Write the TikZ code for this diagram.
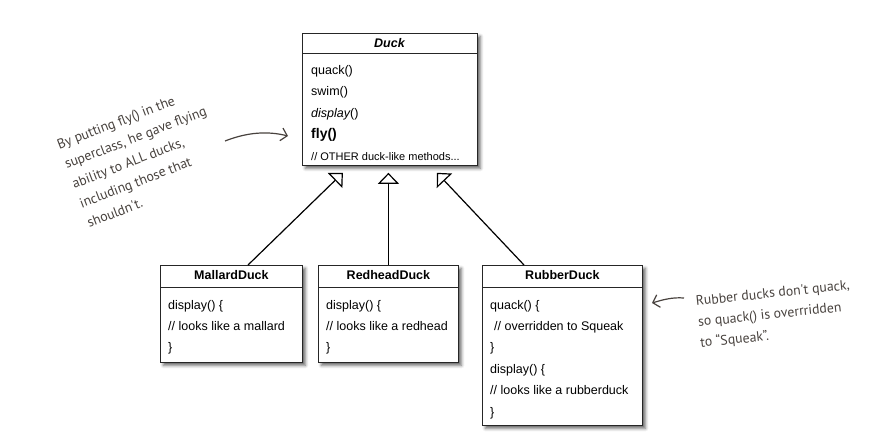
\documentclass[tikz,border=0pt]{standalone}
\usepackage{fontspec}
\setmainfont{Liberation Sans}
\newfontfamily\handfont{PT Sans}
\usetikzlibrary{calc,arrows.meta,shadows.blur}
\definecolor{notegray}{RGB}{72,66,62}

\begin{document}
\begin{tikzpicture}[x=1pt, y=-1pt,
  classbox/.style={draw=black!85, line width=0.8pt, fill=white, anchor=north west, inner sep=0pt,
    blur shadow={shadow xshift=3pt, shadow yshift=-3pt, shadow blur radius=3pt, shadow opacity=60}},
  member/.style={anchor=base west, inner sep=0pt, font=\fontsize{12.5}{14}\selectfont},
  classname/.style={anchor=base, inner sep=0pt, font=\bfseries\fontsize{12.5}{14}\selectfont},
  inherit/.style={-{Triangle[open, length=11pt, width=21pt]}, line width=1.2pt},
  note/.style={text=notegray, align=left, inner sep=0pt, font=\handfont\fontsize{13.8}{21}\selectfont},
  noteline/.style={draw=notegray, line width=1.2pt, -{Straight Barb[length=6pt, width=13pt]}}]
  \useasboundingbox (0,0) rectangle (873,442);
  % 父类 Duck
  \node[classbox, minimum width=175pt, minimum height=132pt] (duck) at (302,33) {};
  \draw[line width=0.8pt, black!85] ($(duck.north west)+(0,20)$) -- ($(duck.north east)+(0,20)$);
  \node[classname, font=\bfseries\itshape\fontsize{12.5}{14}\selectfont] (duck-name) at (389.5,47) {Duck};
  \foreach \m [count=\i] in {quack(), swim(), {\itshape display}(), {\bfseries\fontsize{14}{16}\selectfont fly()}}
    \node[member] (duck-m\i) at ({311}, {74+21.5*(\i-1)}) {\m};
  \node[member, font=\fontsize{11}{13}\selectfont] (duck-m5) at (311,160.5) {// OTHER duck-like methods...};
  % 三个子类
  \foreach \cls/\x/\w/\h/\name in {mallard/160/142/97/MallardDuck, redhead/318/140/97/RedheadDuck, rubber/482/160/160/RubberDuck} {
    \node[classbox, minimum width=\w pt, minimum height=\h pt] (\cls) at (\x,265) {};
    \draw[line width=0.8pt, black!85] ($(\cls.north west)+(0,22)$) -- ($(\cls.north east)+(0,22)$);
    \node[classname] (\cls-name) at ($(\cls.north)+(0,14.5)$) {\name};
  }
  \foreach \m [count=\i] in {display() \{, // looks like a mallard, \}}
    \node[member] (mallard-m\i) at ({168}, {309+21*(\i-1)}) {\m};
  \foreach \m [count=\i] in {display() \{, // looks like a redhead, \}}
    \node[member] (redhead-m\i) at ({326}, {309+21*(\i-1)}) {\m};
  \foreach \m [count=\i] in {quack() \{, \hspace{4pt}// overridden to Squeak, \}, display() \{, // looks like a rubberduck, \}}
    \node[member] (rubber-m\i) at ({490}, {309+21.4*(\i-1)}) {\m};
  % 继承箭头
  \coordinate (tipL) at ($(duck.south)+(-47,7)$);
  \coordinate (tipR) at ($(duck.south)+(47,7)$);
  \draw[inherit] ($(mallard.north west)+(88,0)$) -- (tipL);
  \draw[inherit, shorten >=7pt] (redhead.north) -- (redhead.north |- duck.south);
  \draw[inherit] ($(rubber.north west)+(42,0)$) -- (tipR);
  % 手写注释
  \node[note, rotate=21] (flynote) at (143,157) {By putting fly() in the\\superclass, he gave flying\\ability to ALL ducks,\\including those that\\shouldn't.};
  \node[note, rotate=6] (quacknote) at (775,315) {Rubber ducks don't quack,\\so quack() is overrridden\\to “Squeak”.};
  \coordinate (flyfrom) at (225,141);
  \coordinate (flyto) at (288,136);
  \draw[noteline] (flyfrom) .. controls (248,132) and (268,131) .. (flyto);
  \coordinate (quackfrom) at (684,298);
  \coordinate (quackto) at (652,303);
  \draw[noteline] (quackfrom) .. controls (672,297) and (662,300) .. (quackto);
\end{tikzpicture}
\end{document}
